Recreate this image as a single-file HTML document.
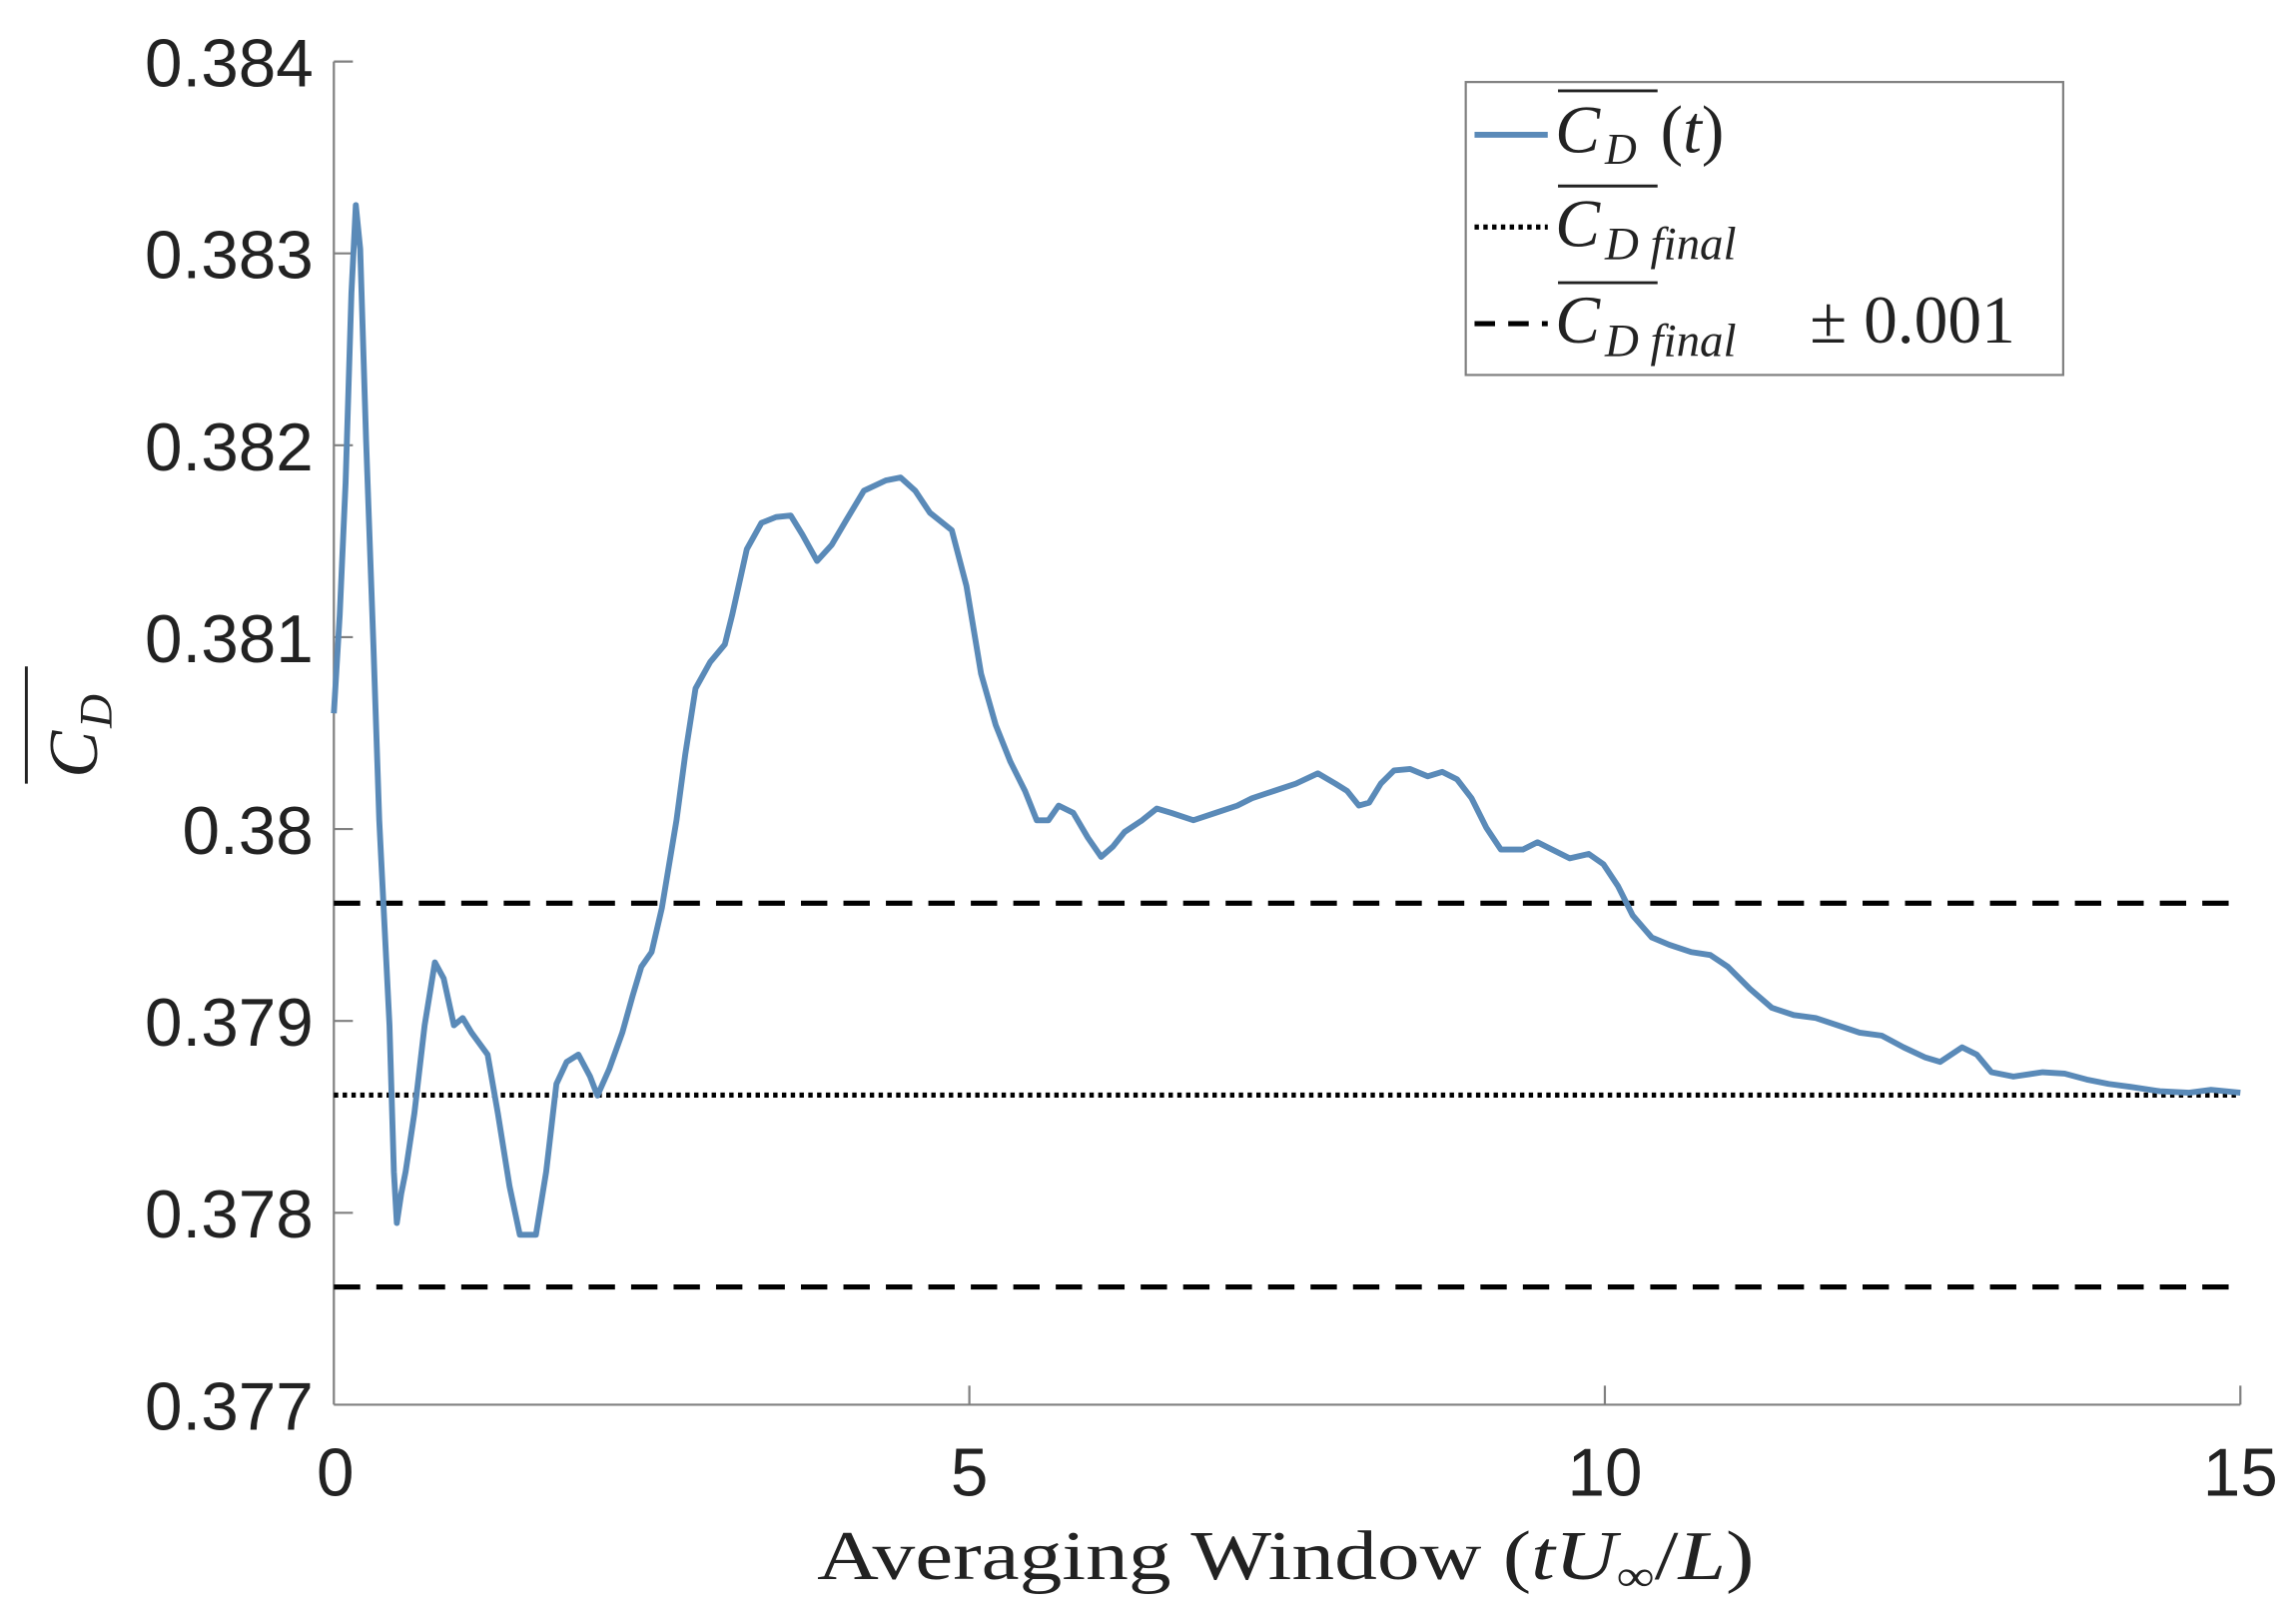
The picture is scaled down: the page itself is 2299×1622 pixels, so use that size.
<!DOCTYPE html>
<html><head><meta charset="utf-8"><style>html,body{margin:0;padding:0;background:#fff;}svg{display:block}</style></head>
<body>
<svg width="2299" height="1622" viewBox="0 0 1568 1106" preserveAspectRatio="none" xmlns="http://www.w3.org/2000/svg">
<rect width="1568" height="1106" fill="#fff"/>
<g stroke="#808080" stroke-width="1.5" fill="none">
<line x1="228" y1="42" x2="228" y2="959"/>
<line x1="228" y1="959" x2="1530" y2="959"/>
<line x1="228" y1="42" x2="241" y2="42"/><line x1="228" y1="173" x2="241" y2="173"/>
<line x1="228" y1="304" x2="241" y2="304"/><line x1="228" y1="435" x2="241" y2="435"/>
<line x1="228" y1="566" x2="241" y2="566"/><line x1="228" y1="697" x2="241" y2="697"/>
<line x1="228" y1="828" x2="241" y2="828"/>
<line x1="662" y1="959" x2="662" y2="946"/><line x1="1096" y1="959" x2="1096" y2="946"/><line x1="1530" y1="959" x2="1530" y2="946"/>
</g>
<g font-family="Liberation Sans Narrow, Liberation Sans, sans-serif" font-stretch="condensed" font-size="46" fill="#222" text-anchor="end">
<text x="214" y="59">0.384</text><text x="214" y="190">0.383</text><text x="214" y="321">0.382</text>
<text x="214" y="452">0.381</text><text x="214" y="583">0.38</text><text x="214" y="714">0.379</text>
<text x="214" y="845">0.378</text><text x="214" y="976">0.377</text>
</g>
<g font-family="Liberation Sans Narrow, Liberation Sans, sans-serif" font-stretch="condensed" font-size="46" fill="#222" text-anchor="middle">
<text x="229" y="1021">0</text><text x="662" y="1021">5</text><text x="1096" y="1021">10</text><text x="1530" y="1021">15</text>
</g>
<text x="878" y="1078" font-family="Liberation Serif, serif" font-size="48" fill="#222" text-anchor="middle" textLength="640" lengthAdjust="spacingAndGlyphs">Averaging Window (<tspan font-style="italic">tU</tspan><tspan font-size="30" dy="8">∞</tspan><tspan dy="-8">/</tspan><tspan font-style="italic">L</tspan>)</text>
<g transform="translate(66,495) rotate(-90)" font-family="Liberation Serif, serif" fill="#222">
<line x1="-40" y1="-48" x2="40" y2="-48" stroke="#222" stroke-width="2"/>
<text x="-36" y="0" font-size="48" font-style="italic">C</text><text x="-2" y="10" font-size="32" font-style="italic">D</text>
</g>
<line x1="228" y1="616.6" x2="1530" y2="616.6" stroke="#000" stroke-width="3.5" stroke-dasharray="18,11"/>
<line x1="228" y1="878.6" x2="1530" y2="878.6" stroke="#000" stroke-width="3.5" stroke-dasharray="18,11"/>
<line x1="228" y1="747.6" x2="1530" y2="747.6" stroke="#000" stroke-width="3.5" stroke-dasharray="3,3"/>
<polyline fill="none" stroke="#5a8ab8" stroke-width="4" stroke-linejoin="round" points="228,487 232,420 236,330 240,200 243,140 246,170 250,300 255,440 259,560 262,620 266,700 269,800 271,835 274,815 277,800 283,760 290,700 297,657 303,668 310,700 316,695 322,705 333,720 340,760 348,810 355,843 366,843 373,800 380,740 387,725 395,720 403,735 408,748 416,730 425,705 432,680 438,660 445,650 452,620 462,560 468,515 475,470 485,452 495,440 500,420 510,375 520,357 530,353 540,352 548,365 558,383 568,372 578,355 590,335 605,328 615,326 625,335 635,350 650,362 660,400 670,460 680,495 690,520 700,540 708,560 716,560 723,550 733,555 743,572 752,585 760,578 768,568 780,560 790,552 800,555 815,560 830,555 845,550 855,545 870,540 885,535 900,528 912,535 920,540 928,550 935,548 943,535 952,526 963,525 975,530 985,527 995,532 1005,545 1015,565 1025,580 1040,580 1050,575 1060,580 1072,586 1085,583 1095,590 1105,605 1115,625 1128,640 1140,645 1155,650 1168,652 1180,660 1195,675 1210,688 1225,693 1240,695 1255,700 1270,705 1285,707 1300,715 1315,722 1325,725 1340,715 1350,720 1360,732 1375,735 1395,732 1410,733 1425,737 1440,740 1455,742 1475,745 1495,746 1510,744 1530,746"/>
<rect x="1001" y="56" width="408" height="200" fill="#fff" stroke="#808080" stroke-width="1.5"/>
<line x1="1007" y1="92" x2="1057" y2="92" stroke="#5a8ab8" stroke-width="4"/>
<line x1="1007" y1="155" x2="1057" y2="155" stroke="#000" stroke-width="3.5" stroke-dasharray="3,3"/>
<line x1="1007" y1="221" x2="1057" y2="221" stroke="#000" stroke-width="3.5" stroke-dasharray="14,9"/>
<g font-family="Liberation Serif, serif" fill="#222" font-size="46">
<line x1="1064" y1="62" x2="1132" y2="62" stroke="#222" stroke-width="2"/>
<text x="1062" y="104" font-style="italic">C</text><text x="1096" y="112" font-size="30" font-style="italic">D</text><text x="1134" y="104">(<tspan font-style="italic">t</tspan>)</text>
<line x1="1064" y1="127" x2="1132" y2="127" stroke="#222" stroke-width="2"/>
<text x="1062" y="168" font-style="italic">C</text><text x="1096" y="177" font-size="32" font-style="italic">D final</text>
<line x1="1064" y1="193" x2="1132" y2="193" stroke="#222" stroke-width="2"/>
<text x="1062" y="234" font-style="italic">C</text><text x="1096" y="243" font-size="32" font-style="italic">D final</text><text x="1236" y="234">± 0.001</text>
</g>
</svg>
</body></html>
